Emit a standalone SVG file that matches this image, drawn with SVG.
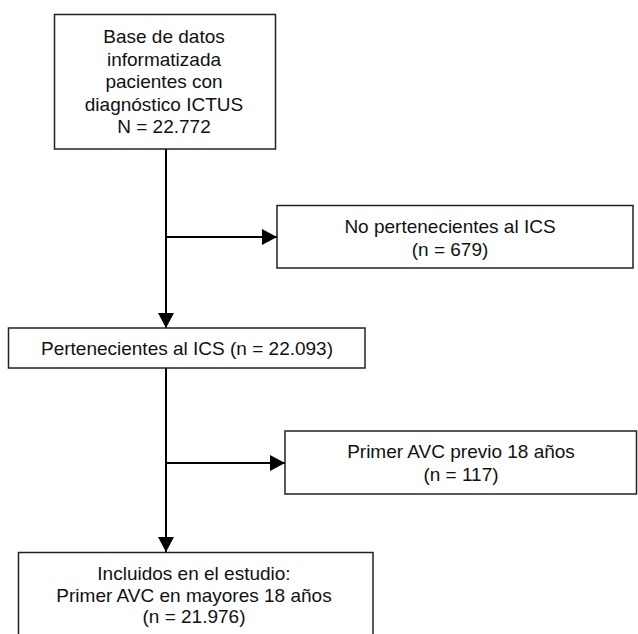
<svg xmlns="http://www.w3.org/2000/svg" width="638" height="634" viewBox="0 0 638 634">
<defs>
<marker id="arr" markerUnits="userSpaceOnUse" markerWidth="16" markerHeight="16" refX="15" refY="8" orient="auto">
<path d="M0,0 L15,8 L0,16 Z" fill="#000"/>
</marker>
<style>
.box{fill:#fff;stroke:#222;stroke-width:1.5}
.lbl{font-family:"Liberation Sans",Arial,sans-serif;font-size:19px;fill:#111;text-anchor:middle}
.con{stroke:#000;stroke-width:2;fill:none}
</style>
</defs>
<rect width="638" height="634" fill="#fff"/>
<g id="connectors">
<line class="con" x1="166" y1="149" x2="166" y2="328" marker-end="url(#arr)"/>
<line class="con" x1="166" y1="237" x2="277" y2="237" marker-end="url(#arr)"/>
<line class="con" x1="166" y1="368" x2="166" y2="552" marker-end="url(#arr)"/>
<line class="con" x1="166" y1="463" x2="285" y2="463" marker-end="url(#arr)"/>
</g>
<g id="n1">
<rect class="box" x="54.5" y="14.5" width="221" height="134.5"/>
<text class="lbl" x="164" y="43">Base de datos</text>
<text class="lbl" x="164" y="65.5">informatizada</text>
<text class="lbl" x="164" y="88">pacientes con</text>
<text class="lbl" x="164" y="110.5">diagnóstico ICTUS</text>
<text class="lbl" x="164" y="133">N = 22.772</text>
</g>
<g id="n2">
<rect class="box" x="277" y="205.5" width="356" height="62.5"/>
<text class="lbl" x="450" y="233">No pertenecientes al ICS</text>
<text class="lbl" x="450" y="256">(n = 679)</text>
</g>
<g id="n3">
<rect class="box" x="8.5" y="328" width="356.5" height="40"/>
<text class="lbl" x="187" y="355">Pertenecientes al ICS (n = 22.093)</text>
</g>
<g id="n4">
<rect class="box" x="285" y="431" width="351.5" height="63"/>
<text class="lbl" x="461" y="458">Primer AVC previo 18 años</text>
<text class="lbl" x="461" y="481">(n = 117)</text>
</g>
<g id="n5">
<rect class="box" x="18.5" y="552.5" width="354.5" height="100"/>
<text class="lbl" x="194" y="580">Incluidos en el estudio:</text>
<text class="lbl" x="194" y="601.5">Primer AVC en mayores 18 años</text>
<text class="lbl" x="194" y="623">(n = 21.976)</text>
</g>
</svg>
